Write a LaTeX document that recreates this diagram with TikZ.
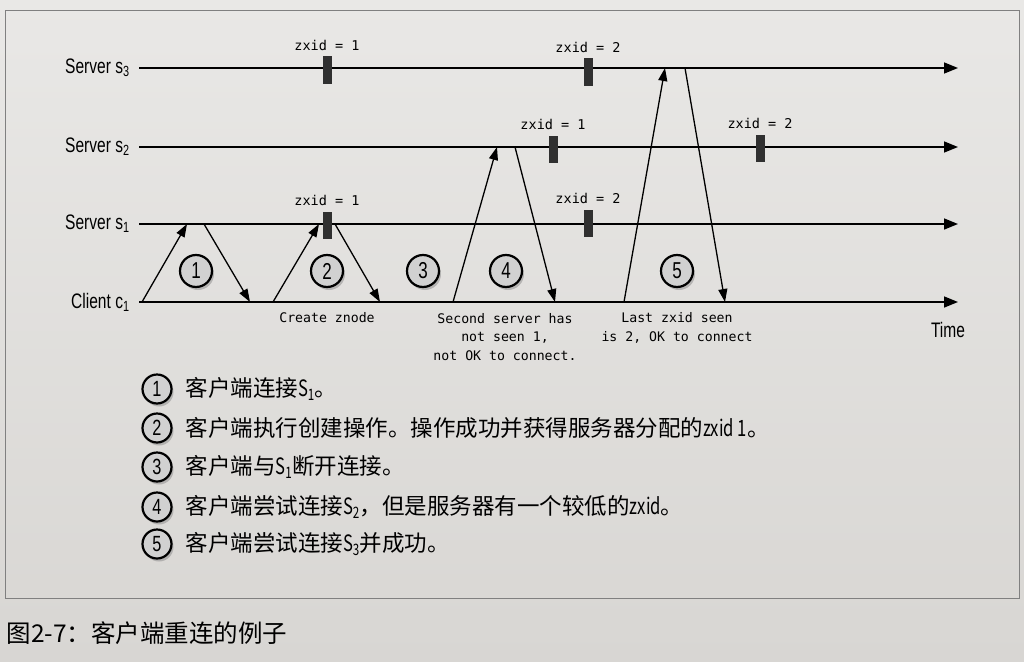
\documentclass[tikz,border=0pt]{standalone}
\usepackage{fontspec}
\setmainfont{Liberation Sans}
\setsansfont{Liberation Sans}
\setmonofont{DejaVu Sans Mono}
\newfontfamily\cjk{Noto Sans CJK SC}
\usetikzlibrary{arrows.meta, shadows}

\definecolor{papertop}{RGB}{233,232,230}
\definecolor{paperbot}{RGB}{216,214,211}
\definecolor{markgray}{RGB}{48,48,48}
\newcommand{\cond}[1]{\scalebox{0.74}[1]{#1}}

\tikzset{
  timeline/.style={line width=1.5pt, -{Triangle[length=14pt,width=11pt]}},
  msg/.style={line width=1.3pt, -{Triangle[length=13pt,width=9pt]}},
  zmark/.style={rectangle, fill=markgray, minimum width=9pt, minimum height=27pt, inner sep=0pt},
  zlbl/.style={font=\ttfamily\fontsize{13.5}{16}\selectfont},
  note/.style={font=\ttfamily\fontsize{13.2}{18.5}\selectfont, align=center},
  axislbl/.style={font=\fontsize{21}{24}\selectfont},
  stepno/.style={circle, draw, line width=2.2pt, fill=black!18, inner sep=0pt,
    minimum size=32pt, font=\fontsize{23}{26}\selectfont,
    drop shadow={shadow xshift=2pt, shadow yshift=-3pt, opacity=0.45}},
  legno/.style={stepno, minimum size=29pt, font=\fontsize{22}{26}\selectfont},
  legtxt/.style={anchor=west, font=\cjk\fontsize{22.5}{26}\selectfont}
}

\begin{document}
\begin{tikzpicture}[x=1pt, y=-1pt]
    \useasboundingbox (0,0) rectangle (1024,661);
    \shade[top color=papertop, bottom color=paperbot] (0,0) rectangle (1024,661);
    \draw[black!50, line width=0.7pt] (5,10) rectangle (1019,598);

    % time lines
    \node[axislbl, anchor=east] (s3) at (133,68) {\cond{Server s\textsubscript{3}}};
    \node[axislbl, anchor=east] (s2) at (133,147) {\cond{Server s\textsubscript{2}}};
    \node[axislbl, anchor=east] (s1) at (133,224) {\cond{Server s\textsubscript{1}}};
    \node[axislbl, anchor=east] (c1) at (133,302) {\cond{Client c\textsubscript{1}}};
    \draw[timeline] (s3.east) ++(6,0) coordinate (s3a) -- (958,68) coordinate (s3b);
    \draw[timeline] (s2.east) ++(6,0) coordinate (s2a) -- (958,147) coordinate (s2b);
    \draw[timeline] (s1.east) ++(6,0) coordinate (s1a) -- (958,224) coordinate (s1b);
    \draw[timeline] (c1.east) ++(6,0) coordinate (c1a) -- (958,302) coordinate (c1b);
    \node[axislbl] (time) at (948,330) {\cond{Time}};

    % zxid marks
    \node[zmark] (m31) at (327,70) {};
    \node[zmark] (m32) at (588,72) {};
    \node[zmark] (m21) at (553,149) {};
    \node[zmark] (m22) at (760,148) {};
    \node[zmark] (m11) at (327,225) {};
    \node[zmark] (m12) at (588,223) {};
    \node[zlbl] at (327,45) {zxid = 1};
    \node[zlbl] at (588,47) {zxid = 2};
    \node[zlbl] at (553,124) {zxid = 1};
    \node[zlbl] at (760,123) {zxid = 2};
    \node[zlbl] at (327,200) {zxid = 1};
    \node[zlbl] at (588,198) {zxid = 2};

    % connection points
    \coordinate (p1) at (142,302);  \coordinate (q1) at (187,224);
    \coordinate (p2) at (204,224);  \coordinate (q2) at (250,302);
    \coordinate (p3) at (273,302);  \coordinate (q3) at (319,224);
    \coordinate (p4) at (335,224);  \coordinate (q4) at (380,302);
    \coordinate (p5) at (453,302);  \coordinate (q5) at (497,147);
    \coordinate (p6) at (515,147);  \coordinate (q6) at (555,302);
    \coordinate (p7) at (624,302);  \coordinate (q7) at (665,68);
    \coordinate (p8) at (685,68);   \coordinate (q8) at (725,302);
    \foreach \i in {1,...,8}
        \draw[msg] (p\i) -- (q\i);

    % steps
    \node[stepno] (n1) at (196,271) {\cond{1}};
    \node[stepno] (n2) at (327,271) {\cond{2}};
    \node[stepno] (n3) at (423,271) {\cond{3}};
    \node[stepno] (n4) at (506,271) {\cond{4}};
    \node[stepno] (n5) at (677,271) {\cond{5}};

    \node[note] at (327,318) {Create znode};
    \node[note] at (505,337) {Second server has\\not seen 1,\\not OK to connect.};
    \node[note] at (677,328) {Last zxid seen\\is 2, OK to connect};

    % legend
    \node[legno] (l1) at (157,389) {\cond{1}};
    \node[legno] (l2) at (157,428) {\cond{2}};
    \node[legno] (l3) at (157,467) {\cond{3}};
    \node[legno] (l4) at (157,507) {\cond{4}};
    \node[legno] (l5) at (157,544) {\cond{5}};
    \node[legtxt] at (182,389) {客户端连接\cond{S\textsubscript{1}}。};
    \node[legtxt] at (182,428) {客户端执行创建操作。操作成功并获得服务器分配的\cond{zxid 1}。};
    \node[legtxt] at (182,467) {客户端与\cond{S\textsubscript{1}}断开连接。};
    \node[legtxt] at (182,507) {客户端尝试连接\cond{S\textsubscript{2}}，但是服务器有一个较低的\cond{zxid}。};
    \node[legtxt] at (182,544) {客户端尝试连接\cond{S\textsubscript{3}}并成功。};

    \node[anchor=west, font=\cjk\fontsize{24.5}{28}\selectfont] (cap) at (3,633) {图2-7：客户端重连的例子};
\end{tikzpicture}
\end{document}
